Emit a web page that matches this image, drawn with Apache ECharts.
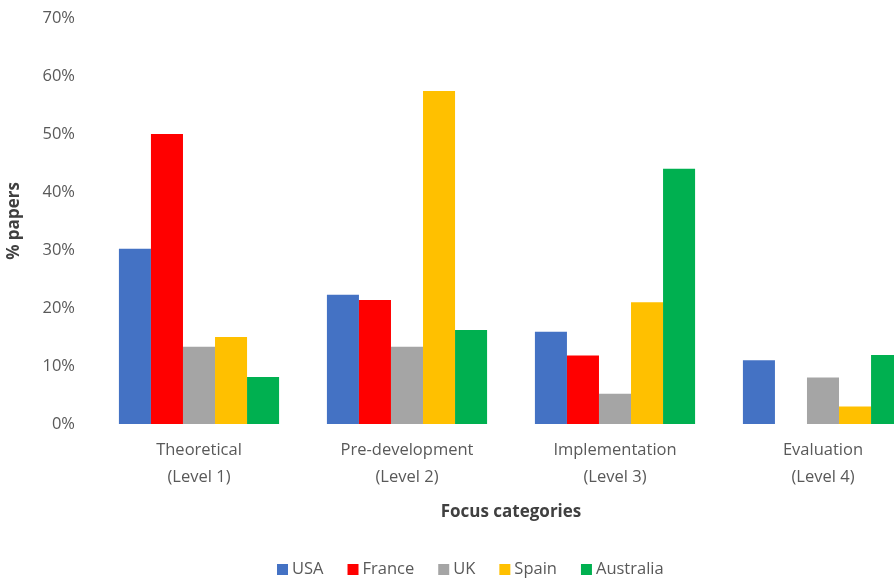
<!DOCTYPE html>
<html>
<head>
<meta charset="utf-8">
<script src="https://cdn.jsdelivr.net/npm/echarts@6/dist/echarts.min.js"></script>
<style>html,body{margin:0;padding:0;background:#fff;overflow:hidden;}#c{width:894px;height:579px;}</style>
</head>
<body>
<div id="c"></div>
<script>
const categories = ['Theoretical\n(Level 1)', 'Pre-development\n(Level 2)', 'Implementation\n(Level 3)', 'Evaluation\n(Level 4)'];
const usa = [30.2, 22.3, 15.9, 11.0];
const france = [50.0, 21.4, 11.8, 0];
const uk = [13.3, 13.3, 5.2, 8.0];
const spain = [15.0, 57.4, 21.0, 3.0];
const australia = [8.1, 16.2, 44.0, 11.9];
const seriesNames = ['USA', 'France', 'UK', 'Spain', 'Australia'];
const colors = ['#4472C4', '#FF0000', '#A5A5A5', '#FFC000', '#00B050'];
const yTicks = [0, 10, 20, 30, 40, 50, 60, 70];

const font = '"Open Sans", sans-serif';
const allData = [usa, france, uk, spain, australia];
const chart = echarts.init(document.getElementById('c'));
chart.setOption({
  animation: false,
  textStyle: { fontFamily: font },
  grid: { left: 95, width: 832, top: 18, bottom: 155, containLabel: false, outerBoundsMode: 'none' },
  legend: {
    data: seriesNames,
    top: 556,
    left: 272,
    itemWidth: 11,
    itemHeight: 11,
    itemGap: 24,
    icon: 'rect',
    textStyle: { color: '#595959', fontSize: 16.5, fontFamily: font, padding: [0, 0, 0, -1] }
  },
  xAxis: {
    type: 'category',
    data: categories,
    name: 'Focus categories',
    nameLocation: 'middle',
    nameGap: 80,
    nameTextStyle: { color: '#404040', fontSize: 17, fontWeight: 'bold', fontFamily: font },
    axisLine: { show: false },
    axisTick: { show: false },
    axisLabel: { color: '#595959', fontSize: 16.5, fontFamily: font, lineHeight: 27, margin: 13, interval: 0 }
  },
  yAxis: {
    type: 'value',
    min: yTicks[0],
    max: yTicks[yTicks.length - 1],
    interval: 10,
    name: '% papers',
    nameLocation: 'middle',
    nameGap: 72,
    nameRotate: 90,
    nameTextStyle: { color: '#404040', fontSize: 17, fontWeight: 'bold', fontFamily: font },
    splitLine: { show: false },
    axisLine: { show: false },
    axisTick: { show: false },
    axisLabel: { color: '#595959', fontSize: 16.5, fontFamily: font, margin: 20, formatter: v => v + '%' }
  },
  series: seriesNames.map((n, i) => ({
    name: n,
    type: 'bar',
    data: allData[i],
    barGap: '0%',
    barCategoryGap: '23%',
    itemStyle: { color: colors[i] }
  }))
});
</script>
</body>
</html>
